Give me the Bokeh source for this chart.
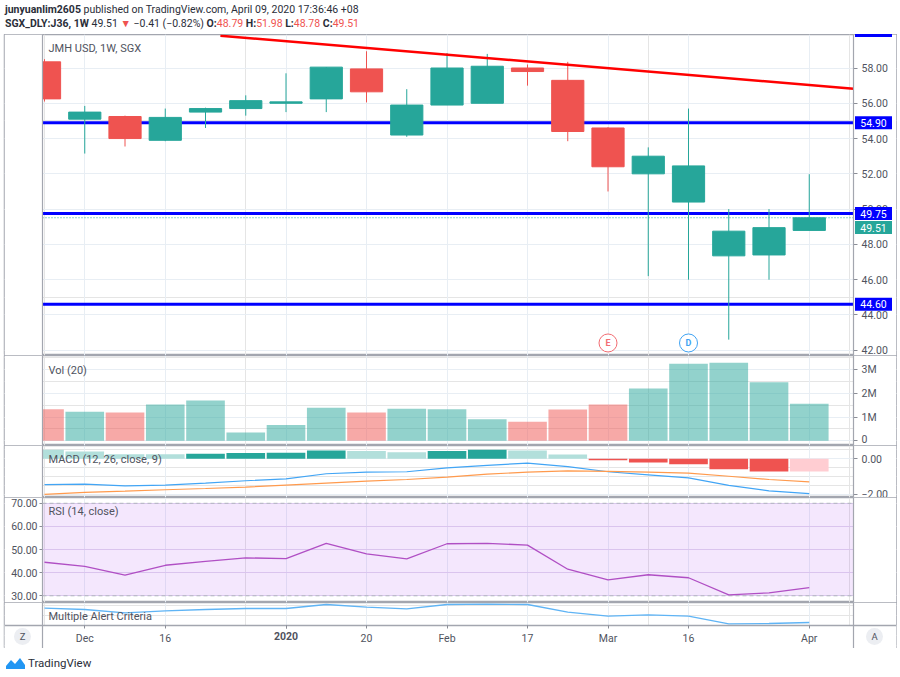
from bokeh.plotting import figure
from bokeh.models import (Range1d, FixedTicker, LinearAxis, Grid, Span, Label, Div,
                          PrintfTickFormatter, BoxAnnotation)
from bokeh.layouts import column
from bokeh.embed import file_html
from bokeh.resources import INLINE
from bokeh.core.properties import value

# ---------------- data (weekly bars, SGX_DLY:J36) ----------------
weeks = ["2019-11-25", "2019-12-02", "2019-12-09", "2019-12-16", "2019-12-23",
         "2019-12-30", "2020-01-06", "2020-01-13", "2020-01-20", "2020-01-27",
         "2020-02-03", "2020-02-10", "2020-02-17", "2020-02-24", "2020-03-02",
         "2020-03-09", "2020-03-16", "2020-03-23", "2020-03-30", "2020-04-06"]
opens = [58.35, 55.10, 55.25, 53.90, 55.50, 55.70, 56.00, 56.25, 57.95, 54.20,
         55.90, 56.00, 58.00, 57.30, 54.60, 52.00, 50.40, 47.35, 47.40, 48.79]
highs = [58.50, 55.85, 55.30, 55.70, 55.75, 56.45, 57.70, 58.05, 58.95, 56.80,
         58.85, 58.80, 58.20, 58.35, 54.65, 53.50, 55.70, 50.00, 50.00, 51.98]
lows = [56.10, 53.15, 53.55, 53.85, 54.60, 55.30, 55.50, 55.50, 56.05, 54.10,
        55.90, 56.00, 57.00, 53.85, 51.00, 46.20, 46.00, 42.60, 46.00, 48.78]
closes = [56.25, 55.50, 54.00, 55.20, 55.70, 56.15, 56.08, 58.05, 56.65, 55.90,
          58.00, 58.10, 57.80, 54.40, 52.40, 53.00, 52.45, 48.75, 48.95, 49.51]
volume = [1330000, 1220000, 1190000, 1530000, 1700000, 350000, 670000, 1390000,
          1190000, 1350000, 1330000, 910000, 800000, 1320000, 1530000, 2210000,
          3250000, 3290000, 2470000, 1560000]
macd_line = [-1.44, -1.41, -1.50, -1.46, -1.35, -1.22, -1.11, -0.83, -0.74, -0.72,
             -0.50, -0.36, -0.24, -0.43, -0.72, -0.89, -1.06, -1.48, -1.78, -1.93]
macd_signal = [-1.98, -1.87, -1.80, -1.72, -1.65, -1.57, -1.46, -1.35, -1.24, -1.15,
               -1.02, -0.85, -0.74, -0.67, -0.70, -0.74, -0.80, -0.97, -1.15, -1.28]
macd_hist = [0.50, 0.41, 0.26, 0.26, 0.28, 0.33, 0.34, 0.46, 0.44, 0.37,
             0.43, 0.50, 0.46, 0.24, -0.08, -0.20, -0.30, -0.58, -0.70, -0.70]
rsi = [44.5, 42.7, 38.9, 43.2, 44.9, 46.4, 46.1, 52.7, 48.1, 46.0,
       52.5, 52.7, 51.9, 41.5, 36.9, 39.1, 37.8, 30.4, 31.3, 33.5]
alert = [17.3, 16.0, 12.7, 14.7, 16.0, 17.0, 17.0, 21.0, 18.3, 16.7,
         21.0, 21.3, 21.0, 13.3, 9.3, 10.7, 9.3, 1.7, 2.0, 3.0]

h_levels = [60.12, 54.90, 49.75, 44.60]
trend_idx = [4.37, 20.1]
trend_price = [59.83, 56.83]
event_idx = [14, 16]
event_label = ["E", "D"]

tick_idx = [1, 3, 6, 8, 10, 12, 14, 16, 19]
tick_labels = ["Dec", "16", "2020", "20", "Feb", "17", "Mar", "16", "Apr"]
year_tick = 6
price_ticks = [42, 44, 46, 48, 50, 52, 54, 56, 58]
vol_ticks = [0, 1000000, 2000000, 3000000]
vol_tick_labels = ["0", "1M", "2M", "3M"]
macd_ticks = [0, -2]
macd_tick_labels = ["0.00", "\u22122.00"]
rsi_ticks = [30, 40, 50, 60, 70]

# ---------------- layout / styling ----------------
FONT = "Roboto"
GREEN = "#26a69a"
RED = "#ef5350"
GRID = "#e8eef4"
BORDER = "#a3a6af"
TXT = "#50535e"

W = 897                      # figure width
FIG_L, FIG_R = 4, 896        # outer box edges (page px)
PL_PX, PR_PX = 42, 853       # price-plot area edges (page px)
PX = 40.25                   # px per weekly bar
PLOT_L = -0.05
PLOT_R = PLOT_L + (PR_PX - PL_PX) / PX
XR = Range1d(PLOT_L - (PL_PX - FIG_L) / PX, PLOT_R + (FIG_R - PR_PX) / PX)


def px2x(px):
    return PLOT_L + (px - PL_PX) / PX


N = len(opens)
idx = list(range(N))
candle_col = [GREEN if c >= o else RED for o, c in zip(opens, closes)]
body_top = [max(o, c) for o, c in zip(opens, closes)]
body_bot = [min(o, c) for o, c in zip(opens, closes)]

hist_col = []
prev = None
for hv in macd_hist:
    if hv >= 0:
        hist_col.append("#26a69a" if (prev is not None and hv > prev) else "#b2dfdb")
    else:
        hist_col.append("#ef5350" if (prev is not None and hv < prev) else "#ffcdd2")
    prev = hv


def panel(h, yr, ygrid_ticks=None, grid_color=GRID):
    p = figure(width=W, height=h, x_range=XR, y_range=yr,
               output_backend="svg", toolbar_location=None,
               x_axis_location=None, y_axis_location=None,
               min_border_left=FIG_L, min_border_right=W - FIG_R,
               min_border_top=0, min_border_bottom=0)
    p.outline_line_color = BORDER
    p.outline_line_width = 1.5
    p.background_fill_color = "white"
    p.border_fill_color = "white"
    p.add_layout(Grid(dimension=0, ticker=FixedTicker(ticks=tick_idx),
                      grid_line_color=GRID))
    if ygrid_ticks is not None:
        p.add_layout(Grid(dimension=1, ticker=FixedTicker(ticks=ygrid_ticks),
                          grid_line_color=grid_color))
    return p


def finish(p):
    # blank side columns (left scale column and right price-scale column)
    yr = p.y_range
    p.quad(left=[XR.start, PLOT_R], right=[PLOT_L, XR.end],
           bottom=yr.start, top=yr.end, fill_color="white", line_color=None)
    for loc in (PLOT_L, PLOT_R):
        p.add_layout(Span(location=loc, dimension="height", line_color=BORDER,
                          line_width=1.2))


def style_axis(ax, size="10.5px"):
    ax.axis_line_color = None
    ax.major_tick_line_color = "#8a8d96"
    ax.major_tick_out = 4
    ax.major_tick_in = 0
    ax.minor_tick_line_color = None
    ax.major_label_text_font = FONT
    ax.major_label_text_font_size = size
    ax.major_label_text_color = TXT
    ax.major_label_standoff = 4


def title(p, text, y_from_bottom):
    p.add_layout(Label(x=PL_PX + 6 - FIG_L, y=y_from_bottom, x_units="screen",
                       y_units="screen", text=text, text_font=FONT,
                       text_font_size="11px", text_color=TXT, text_baseline="middle"))


# ---------------- header ----------------
R = "color:#ef5350"
header = Div(width=W, height=34, margin=(0, 0, 0, 0), text=(
    '<div style="position:relative;left:5px;top:3px;font-family:Roboto;'
    'color:#2a2e39;font-size:10.5px;line-height:14px;white-space:nowrap">'
    '<div><b>junyuanlim2605</b> published on TradingView.com, April 09, 2020 17:36:46 +08</div>'
    '<div><b>SGX_DLY:J36, 1W</b> %.2f <span style="%s">&#9660;</span> &minus;0.41 (&minus;0.82%%) '
    '<b>O:</b><span style="%s">%.2f</span> <b>H:</b><span style="%s">%.2f</span> '
    '<b>L:</b><span style="%s">%.2f</span> <b>C:</b><span style="%s">%.2f</span></div></div>'
) % (closes[-1], R, R, opens[-1], R, highs[-1], R, lows[-1], R, closes[-1]))

# ---------------- main price pane ----------------
MAIN_H = 321
yr1 = Range1d(41.70, 59.90)
p1 = panel(MAIN_H, yr1, price_ticks)
p1.segment(x0=[PLOT_L] * len(h_levels), y0=h_levels, x1=[PLOT_R] * len(h_levels),
           y1=h_levels, line_color="#0000ff", line_width=3)
p1.segment(x0=[PLOT_L], y0=[closes[-1]], x1=[PLOT_R], y1=[closes[-1]],
           line_color=GREEN, line_dash="1 2", line_width=1)
p1.segment(x0=idx, y0=lows, x1=idx, y1=highs, line_color=candle_col, line_width=1)
p1.vbar(x=idx, width=0.8, top=body_top, bottom=body_bot,
        fill_color=candle_col, line_color=candle_col)
p1.line(trend_idx, trend_price, line_color="#ff0000", line_width=2.5)
ev_y = [yr1.start + 0.039 * (yr1.end - yr1.start)] * len(event_idx)
ev_col = ["#f26d73", "#3fa3f3"]
p1.scatter(event_idx, ev_y, size=18, fill_color="white", line_color=ev_col, line_width=1)
p1.text(event_idx, ev_y, text=event_label, text_color=ev_col, text_align="center",
        text_baseline="middle", text_font=value(FONT), text_font_size="9px",
        text_font_style="bold")
finish(p1)
ax1 = LinearAxis(ticker=FixedTicker(ticks=price_ticks), fixed_location=PLOT_R,
                 formatter=PrintfTickFormatter(format="%.2f"))
style_axis(ax1)
p1.add_layout(ax1, "right")
title(p1, "JMH USD, 1W, SGX", 307)

# price-scale labels for the horizontal levels and the last close (no overlap)
ppu = MAIN_H / (yr1.end - yr1.start)
BOX_H = 14
items = sorted([(v, "#0000ff") for v in h_levels] + [(closes[-1], GREEN)], reverse=True)
box_vals, box_pos, box_cols = [], [], []
for v, c in items:
    pos = v
    if box_pos and (box_pos[-1] - pos) * ppu < BOX_H:
        pos = box_pos[-1] - BOX_H / ppu
    box_vals.append(v)
    box_pos.append(pos)
    box_cols.append(c)
box_x = [px2x(873)] * len(box_vals)
p1.rect(x=box_x, y=box_pos, width=37, height=BOX_H - 1, width_units="screen",
        height_units="screen", fill_color=box_cols, line_color=None, level="overlay")
vis = [i for i, y in enumerate(box_pos) if yr1.start < y < yr1.end]
p1.text(x=[box_x[i] for i in vis], y=[box_pos[i] for i in vis],
        text=["%.2f" % box_vals[i] for i in vis], text_color="white",
        text_align="center", text_baseline="middle", text_font=value(FONT),
        text_font_size="10.5px", level="overlay")

# ---------------- volume pane ----------------
p2 = panel(90, Range1d(-200000, 3600000), vol_ticks)
p2.vbar(x=idx, width=0.96, top=volume, bottom=0, fill_color=candle_col,
        fill_alpha=0.5, line_color=None)
finish(p2)
ax2 = LinearAxis(ticker=FixedTicker(ticks=vol_ticks), fixed_location=PLOT_R,
                 major_label_overrides={t: l for t, l in zip(vol_ticks, vol_tick_labels)})
style_axis(ax2)
p2.add_layout(ax2, "right")
title(p2, "Vol (20)", 75)

# ---------------- MACD pane ----------------
p3 = panel(52, Range1d(-2.15, 0.74), macd_ticks)
p3.vbar(x=idx, width=0.96, top=macd_hist, bottom=0, fill_color=hist_col, line_color=None)
p3.line(idx, macd_line, line_color="#42a5f5", line_width=1.2)
p3.line(idx, macd_signal, line_color="#ff9a4d", line_width=1.2)
finish(p3)
ax3 = LinearAxis(ticker=FixedTicker(ticks=macd_ticks), fixed_location=PLOT_R,
                 major_label_overrides={t: l for t, l in zip(macd_ticks, macd_tick_labels)})
style_axis(ax3)
p3.add_layout(ax3, "right")
title(p3, "MACD (12, 26, close, 9)", 38)

# ---------------- RSI pane ----------------
p4 = panel(105, Range1d(27.1, 72.5), rsi_ticks, "#e2d8ef")
p4.add_layout(BoxAnnotation(left=PLOT_L, right=PLOT_R, bottom=30, top=70,
                            fill_color="#9c27f0", fill_alpha=0.11,
                            line_color=None, level="underlay"))
p4.segment(x0=[PLOT_L, PLOT_L], y0=[30, 70], x1=[PLOT_R, PLOT_R], y1=[30, 70],
           line_color="#b2b5be", line_dash="4 3", line_width=1)
p4.line(idx, rsi, line_color="#b04fc4", line_width=1.3)
finish(p4)
ax4 = LinearAxis(ticker=FixedTicker(ticks=rsi_ticks), fixed_location=PLOT_L,
                 formatter=PrintfTickFormatter(format="%.2f"))
style_axis(ax4, "10.5px")
ax4.major_tick_out = 3
ax4.major_label_standoff = 2
p4.add_layout(ax4, "left")
title(p4, "RSI (14, close)", 91)

# ---------------- alert pane + time axis ----------------
p5 = panel(46, Range1d(-23, 23))
p5.line(idx, alert, line_color="#5fb4f5", line_width=1.3)
p5.quad(left=[XR.start], right=[XR.end], bottom=[-23], top=[0],
        fill_color="white", line_color=None)
finish(p5)
ax5 = LinearAxis(ticker=FixedTicker(ticks=tick_idx), fixed_location=0,
                 major_label_overrides={t: ("" if t == year_tick else l)
                                        for t, l in zip(tick_idx, tick_labels)})
style_axis(ax5)
ax5.axis_line_color = BORDER
ax5.axis_line_width = 1.5
ax5.major_tick_out = 3
ax5.major_label_standoff = 3
p5.add_layout(ax5, "below")
# year boundary label is drawn bold, as on TradingView
ax5b = LinearAxis(ticker=FixedTicker(ticks=[year_tick]), fixed_location=0,
                  major_label_overrides={year_tick: tick_labels[tick_idx.index(year_tick)]})
style_axis(ax5b)
ax5b.major_tick_out = 3
ax5b.major_label_standoff = 3
ax5b.major_label_text_font_style = "bold"
p5.add_layout(ax5b, "below")
title(p5, "Multiple Alert Criteria", 32)
btn_x = [px2x(22), px2x(874)]
btn_y = [-11, -11]
p5.scatter(btn_x, btn_y, size=17, fill_color="#eceef2", line_color=None)
p5.text(btn_x, btn_y, text=["Z", "A"], text_color=TXT, text_align="center",
        text_baseline="middle", text_font=value(FONT), text_font_size="9.5px")

# ---------------- footer ----------------
footer = Div(width=W, height=29, margin=(0, 0, 0, 0), text=(
    '<div style="position:relative;left:5px;top:7px;font-family:Roboto;'
    'color:#2a2e39;font-size:11.5px;white-space:nowrap;display:flex;align-items:center">'
    '<svg width="21" height="14" viewBox="0 0 21 14" style="margin-right:2px">'
    '<path d="M1 13 L1 10 L6 4 L10 8 L15 2 L20 9 L20 13 Z" fill="#2196f3"/></svg>'
    'TradingView</div>'))

layout = column(header, p1, p2, p3, p4, p5, footer)
open("out.html", "w").write(file_html(layout, INLINE))
